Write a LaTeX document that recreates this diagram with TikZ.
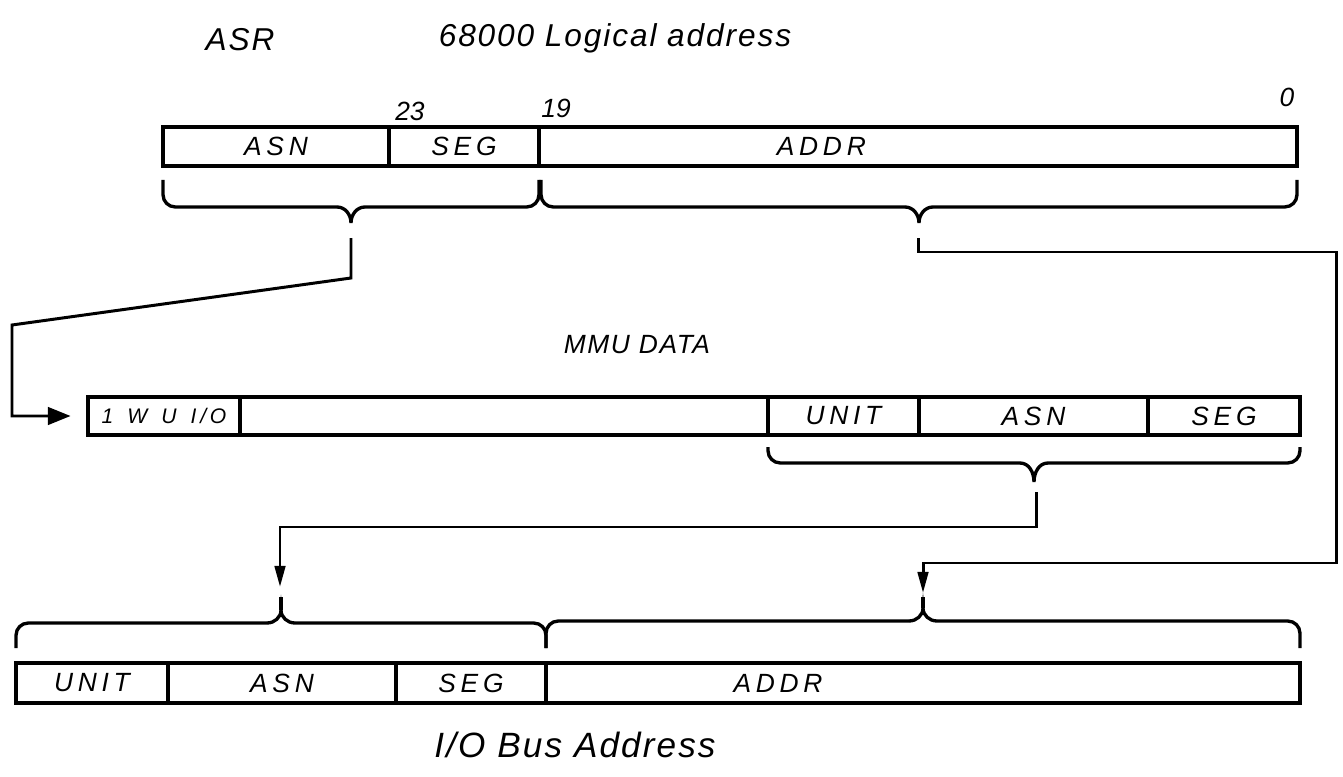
\documentclass[tikz,border=0pt]{standalone}
\usepackage{fontspec}
\setmainfont{Liberation Sans}
\newfontfamily\handfont[LetterSpace=18]{Liberation Sans}
\newfontfamily\titlefont[LetterSpace=6]{Liberation Sans}
\usetikzlibrary{arrows.meta}

\tikzset{
  field/.style={draw, line width=1.8pt, inner sep=0pt,
    font=\handfont\itshape\fontsize{15}{15}\selectfont},
  title/.style={font=\titlefont\itshape\fontsize{18}{18}\selectfont},
  bitno/.style={font=\itshape\fontsize{15}{15}\selectfont},
  link/.style={line width=1.7pt},
  bracepath/.style={line width=1.9pt},
}

% field of a register: name, left x, right x, top y, bottom y, text
\newcommand{\regfield}[6]{%
  \node[field, minimum width={(#3-#2)*0.02cm}, minimum height={(#5-#4)*0.02cm}]
    (#1) at ({(#2+#3)/2},{(#4+#5)/2}) {#6};}

% brace: left x, right x, y of ends, y of bar, y of cusp, y of tip, angle at cusp
\newcommand{\fieldbrace}[7]{%
  \pgfmathsetmacro{\bm}{(#1+#2)/2}
  \pgfmathsetmacro{\bl}{\bm-14}
  \pgfmathsetmacro{\br}{\bm+14}
  \draw[bracepath, rounded corners=7pt] (#1,#3) -- (#1,#4) -- (\bl,#4);
  \draw[bracepath, rounded corners=7pt] (\br,#4) -- (#2,#4) -- (#2,#3);
  \draw[bracepath] (\bl,#4) to[out=0,in=#7] (\bm,#5) to[out=#7,in=180] (\br,#4);
  \draw[bracepath] (\bm,#5) -- (\bm,#6);}

\begin{document}
\begin{tikzpicture}[x=0.02cm, y=-0.02cm]
\useasboundingbox (0,0) rectangle (1343,777);

% titles
\node[title] (asr) at (240,40) {ASR};
\node[title] (logical) at (615,38) {68000 Logical address};
\node[title, font=\titlefont\itshape\fontsize{15}{15}\selectfont] (mmu) at (637,345) {MMU DATA};
\node[title, font=\titlefont\itshape\fontsize{20}{20}\selectfont] (iobus) at (575,745) {I/O Bus Address};

% 68000 logical address
\regfield{asnA}{163}{389}{127}{166}{ASN}
\regfield{segA}{389}{539}{127}{166}{SEG}
\regfield{addrA}{539}{1297}{127}{166}{\hspace*{-110pt}ADDR}
\node[bitno] (b23) at (410,111) {23};
\node[bitno] (b19) at (556,108) {19};
\node[bitno] (b0) at (1287,97) {0};
\fieldbrace{163}{539}{180}{207}{223}{223}{90}
\fieldbrace{541}{1297}{180}{207}{223}{223}{90}
\coordinate (tipA) at (351,238);
\coordinate (tipB) at (918,238);

% MMU data
\regfield{flags}{88}{240}{397}{435}{\fontsize{12}{12}\selectfont 1\hspace{8pt}W\hspace{8pt}U\hspace{8pt}I/O}
\regfield{gap}{240}{768}{397}{435}{}
\regfield{unitM}{768}{919}{397}{435}{UNIT}
\regfield{asnM}{919}{1148}{397}{435}{ASN}
\regfield{segM}{1148}{1300}{397}{435}{SEG}
\fieldbrace{768}{1300}{447}{463}{482}{482}{90}
\coordinate (tipM) at (1036,492);

% I/O bus address
\regfield{unitB}{16}{168}{663}{703}{UNIT}
\regfield{asnB}{168}{396}{663}{703}{ASN}
\regfield{segB}{396}{546}{663}{703}{SEG}
\regfield{addrB}{546}{1300}{663}{703}{\hspace*{-165pt}ADDR}
\fieldbrace{16}{546}{648}{623}{610}{597}{-90}
\fieldbrace{546}{1300}{648}{621}{608}{597}{-90}
\coordinate (inA) at (280,587);
\coordinate (inB) at (923,593);

% connectors
\draw[link, -{Triangle[length=13pt,width=10pt]}, shorten >=9pt]
  (tipA) -- (351,278) -- (12,325) |- (flags.west);
\draw[link, -{Triangle[length=12pt,width=6pt]}]
  (tipM) -- (1036,527) -| (inA);
\draw[link, -{Triangle[length=12pt,width=6pt]}]
  (tipB) -- (918,252) -- (1336,252) -- (1336,563) -| (inB);
\end{tikzpicture}
\end{document}
